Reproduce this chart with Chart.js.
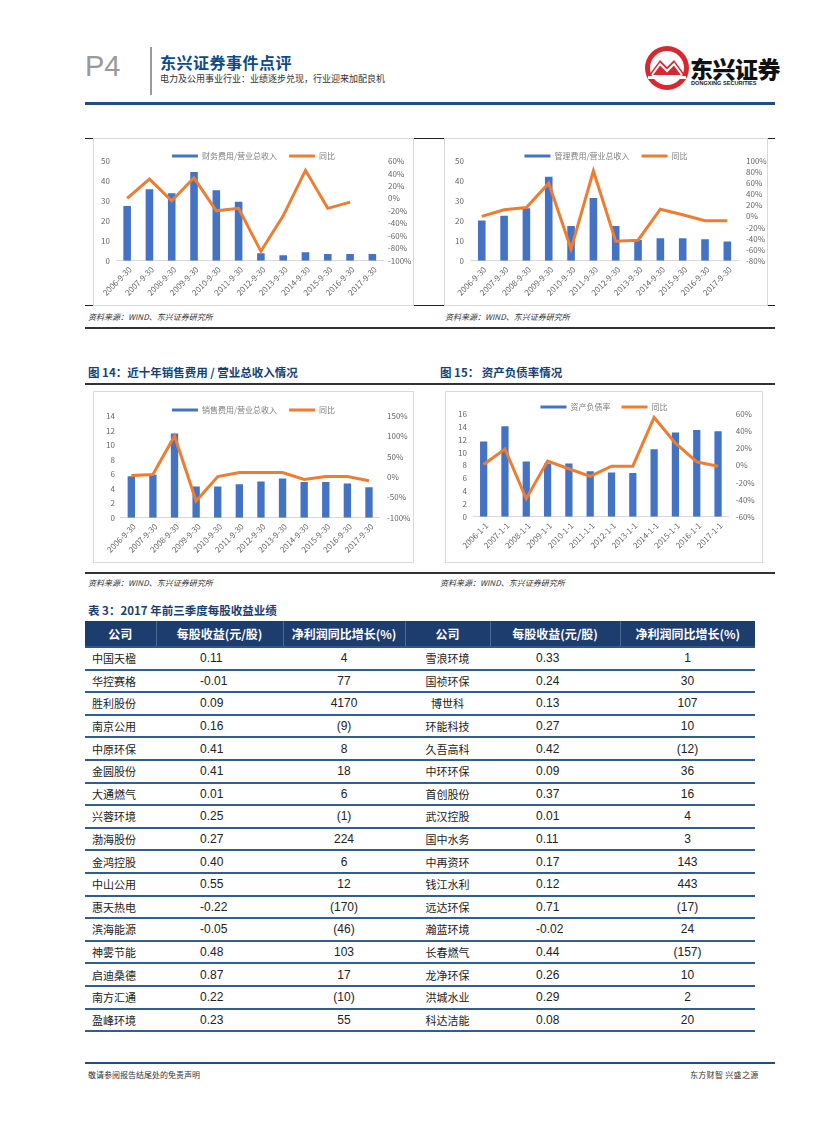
<!DOCTYPE html>
<html lang="zh-CN">
<head>
<meta charset="utf-8">
<title>东兴证券事件点评 P4</title>
<script src="https://cdn.jsdelivr.net/npm/chart.js@4.4.1/dist/chart.umd.min.js"></script>
<style>
  body { margin: 0; background: #fff; font-family: "Noto Sans CJK SC", "Noto Sans", sans-serif; }
  #page { position: relative; width: 827px; height: 1122px; overflow: hidden; background: #fff; }
  .abs { position: absolute; }
  .rule { position: absolute; left: 85px; width: 690px; }
  .box { position: absolute; border: 1px solid #d9d9d9; background: #fff; box-sizing: border-box; }
  .src { position: absolute; font-size: 8px; font-style: italic; color: #333; }
  .figtitle { position: absolute; font-size: 11.5px; font-weight: bold; color: #163f73; }
  canvas { position: absolute; }
  table { position: absolute; left: 85px; top: 621px; width: 670px; border-collapse: collapse; table-layout: fixed; }
  th { background: #1d3d6e; color: #fff; font-size: 12px; font-weight: bold; height: 25px; padding: 0; text-align: center;
       border-left: 1px solid #4a6a96; border-bottom: 2px solid #2a5a8c; }
  th:first-child { border-left: none; }
  td { height: 20.6px; padding: 0; font-size: 11px; color: #222; border-bottom: 2px solid #2e5f90; }
  td.name { text-align: left; padding-left: 7px; }
  td.namer { text-align: center; }
  td.num { font-family: "Liberation Sans Narrow", "Liberation Sans", sans-serif; font-size: 12px; }
  td.eps { text-align: left; padding-left: 44px; }
  td.epsr { text-align: left; padding-left: 46px; }
  td.gr { text-align: center; }
</style>
</head>
<body>
<div id="page">
  <!-- header -->
  <div class="abs" style="left:85px;top:50px;font-family:'Liberation Sans Narrow','Liberation Sans',sans-serif;font-size:29px;color:#999;">P4</div>
  <div class="abs" style="left:150px;top:47px;width:1.5px;height:48px;background:#999;"></div>
  <div class="abs" style="left:160px;top:50px;font-size:16px;font-weight:bold;color:#0d4a8a;letter-spacing:0.5px;">东兴证券事件点评</div>
  <div class="abs" style="left:160px;top:72px;font-size:9px;color:#333;">电力及公用事业行业：业绩逐步兑现，行业迎来加配良机</div>
  <svg class="abs" style="left:644px;top:45px;" width="46" height="46" viewBox="0 0 46 46">
    <circle cx="23" cy="23" r="22" fill="#d7282f"/>
    <circle cx="23" cy="23" r="17" fill="#fff"/>
    <path d="M5 30 L16 15 L23 22 L30 15 L41 30 Z" fill="#d7282f"/>
    <path d="M8 30 L16 19 L23 26 L30 19 L38 30" stroke="#fff" stroke-width="2" fill="none"/>
    <rect x="4" y="31" width="38" height="3" fill="#fff"/>
  </svg>
  <div class="abs" style="left:690px;top:51px;font-size:23px;font-weight:900;color:#111;letter-spacing:-0.5px;">东兴证券</div>
  <div class="abs" style="left:691px;top:80px;font-family:'Liberation Sans',sans-serif;font-size:5.6px;font-weight:bold;color:#222;">DONGXING SECURITIES</div>
  <div class="rule" style="top:102px;height:3px;background:#1c4f86;"></div>

  <!-- chart row 1 -->
  <div class="rule" style="top:138px;height:1px;background:#222;"></div>
  <div class="rule" style="top:305px;height:1px;background:#222;"></div>
  <div class="box" style="left:93px;top:138px;width:321px;height:168px;"></div>
  <div class="box" style="left:444px;top:138px;width:324px;height:168px;"></div>
  <canvas id="c1" width="319" height="166" style="left:94px;top:139px;"></canvas>
  <canvas id="c2" width="322" height="166" style="left:445px;top:139px;"></canvas>
  <div class="src" style="left:88px;top:311px;">资料来源：WIND、东兴证券研究所</div>
  <div class="src" style="left:445px;top:311px;">资料来源：WIND、东兴证券研究所</div>
  <div class="rule" style="top:327px;height:2px;background:#333;"></div>

  <!-- chart row 2 -->
  <div class="figtitle" style="left:88px;top:364px;">图 14：近十年销售费用 / 营业总收入情况</div>
  <div class="figtitle" style="left:440px;top:364px;">图 15：&nbsp;资产负债率情况</div>
  <div class="rule" style="top:383px;height:1.5px;background:#333;"></div>
  <div class="box" style="left:93px;top:391px;width:321px;height:172px;"></div>
  <div class="box" style="left:445px;top:391px;width:318px;height:172px;"></div>
  <canvas id="c3" width="319" height="170" style="left:94px;top:392px;"></canvas>
  <canvas id="c4" width="316" height="170" style="left:446px;top:392px;"></canvas>
  <div class="rule" style="top:572px;height:2px;background:#333;"></div>
  <div class="src" style="left:88px;top:577px;">资料来源：WIND、东兴证券研究所</div>
  <div class="src" style="left:440px;top:577px;">资料来源：WIND、东兴证券研究所</div>

  <!-- table -->
  <div class="figtitle" style="left:88px;top:602px;">表 3：2017 年前三季度每股收益业绩</div>
  <table id="tbl">
    <colgroup><col style="width:71px"><col style="width:127px"><col style="width:122px"><col style="width:85px"><col style="width:130px"><col style="width:135px"></colgroup>
    <thead><tr><th>公司</th><th>每股收益(元/股)</th><th>净利润同比增长(%)</th><th>公司</th><th>每股收益(元/股)</th><th>净利润同比增长(%)</th></tr></thead>
    <tbody></tbody>
  </table>

  <!-- footer -->
  <div class="rule" style="top:1062px;height:2px;background:#1c4f86;"></div>
  <div class="abs" style="left:88px;top:1069px;font-size:8px;color:#333;">敬请参阅报告结尾处的免责声明</div>
  <div class="abs" style="left:690px;top:1069px;font-size:8px;color:#333;letter-spacing:0.3px;">东方财智 兴盛之源</div>
</div>

<script>
const quarterCats = ['2006-9-30', '2007-9-30', '2008-9-30', '2009-9-30', '2010-9-30', '2011-9-30',
                     '2012-9-30', '2013-9-30', '2014-9-30', '2015-9-30', '2016-9-30', '2017-9-30'];
const yearCats = ['2006-1-1', '2007-1-1', '2008-1-1', '2009-1-1', '2010-1-1', '2011-1-1',
                  '2012-1-1', '2013-1-1', '2014-1-1', '2015-1-1', '2016-1-1', '2017-1-1'];

// 财务费用/营业总收入
const finRatio = [27.4, 35.8, 33.8, 44.5, 35.3, 29.6, 3.7, 2.7, 4.3, 3.3, 3.3, 3.3];
const finYoy = [0, 31, -4, 33, -20, -16, -85, -28, 45, -16, -6, null];
// 管理费用/营业总收入
const admRatio = [20.1, 22.6, 26.3, 42.1, 17.4, 31.5, 17.4, 10.4, 11.3, 11.3, 10.8, 9.6];
const admYoy = [0, 12, 16, 60, -59, 82, -45, -43, 13, 3, -8, -8];
// 销售费用/营业总收入
const saleRatio = [5.7, 5.9, 11.6, 4.3, 4.3, 4.6, 5.0, 5.4, 4.9, 4.9, 4.7, 4.2];
const saleYoy = [4, 6, 101, -59, 1, 11, 11, 11, -6, 1, 1, -9];
// 资产负债率
const debtRatio = [11.7, 14.1, 8.6, 8.3, 8.3, 7.1, 6.9, 6.8, 10.5, 13.1, 13.5, 13.3];
const debtYoy = [1, 19, -39, 5, -4, -13, -1, -1, 56, 26, 4, -1];

// table 3
const compL = ['中国天楹', '华控赛格', '胜利股份', '南京公用', '中原环保', '金圆股份', '大通燃气', '兴蓉环境', '渤海股份',
               '金鸿控股', '中山公用', '惠天热电', '滨海能源', '神雾节能', '启迪桑德', '南方汇通', '盈峰环境'];
const epsL = ['0.11', '-0.01', '0.09', '0.16', '0.41', '0.41', '0.01', '0.25', '0.27',
              '0.40', '0.55', '-0.22', '-0.05', '0.48', '0.87', '0.22', '0.23'];
const growL = ['4', '77', '4170', '(9)', '8', '18', '6', '(1)', '224', '6', '12', '(170)', '(46)', '103', '17', '(10)', '55'];
const compR = ['雪浪环境', '国祯环保', '博世科', '环能科技', '久吾高科', '中环环保', '首创股份', '武汉控股', '国中水务',
               '中再资环', '钱江水利', '远达环保', '瀚蓝环境', '长春燃气', '龙净环保', '洪城水业', '科达洁能'];
const epsR = ['0.33', '0.24', '0.13', '0.27', '0.42', '0.09', '0.37', '0.01', '0.11',
              '0.17', '0.12', '0.71', '-0.02', '0.44', '0.26', '0.29', '0.08'];
const growR = ['1', '30', '107', '10', '(12)', '36', '16', '4', '3', '143', '443', '(17)', '24', '(157)', '10', '2', '20'];

const BLUE = '#4472C4';
const ORANGE = '#ED7D31';
const FONT = '"Noto Sans CJK SC", "Noto Sans", sans-serif';
const TICK = '#666';

const tbody = document.querySelector('#tbl tbody');
compL.forEach((c, i) => {
  const tr = document.createElement('tr');
  tr.innerHTML = '<td class="name">' + c + '</td>' +
    '<td class="num eps">' + epsL[i] + '</td>' +
    '<td class="num gr">' + growL[i] + '</td>' +
    '<td class="namer">' + compR[i] + '</td>' +
    '<td class="num epsr">' + epsR[i] + '</td>' +
    '<td class="num gr">' + growR[i] + '</td>';
  tbody.appendChild(tr);
});

// legend sits closer to the plot than Chart.js allows by default
const tightLegend = {
  id: 'tightLegend',
  beforeLayout(chart, args, opts) {
    const lg = chart.legend;
    if (!lg || lg._tight) return;
    const fit = lg.fit;
    lg.fit = function () { fit.call(this); this.height -= opts.shrink; };
    lg._tight = true;
  }
};

// flat swatches for both items, no stroke around them
function flatLabels(chart) {
  return Chart.defaults.plugins.legend.labels.generateLabels(chart).map(it => {
    it.lineWidth = 0;
    return it;
  });
}

function comboChart(id, cats, barName, bars, yoy, left, right, lay) {
  const el = document.getElementById(id);
  if (!el) return null;
  return new Chart(el.getContext('2d'), {
    data: {
      labels: cats,
      datasets: [
        { type: 'bar', label: barName, data: bars, backgroundColor: BLUE, yAxisID: 'y',
          order: 2, categoryPercentage: 1, barPercentage: 0.34 },
        { type: 'line', label: '同比', data: yoy, borderColor: ORANGE, backgroundColor: ORANGE,
          borderWidth: 3, pointRadius: 0, tension: 0, yAxisID: 'y1', order: 1 }
      ]
    },
    options: {
      responsive: false,
      animation: false,
      devicePixelRatio: 1,
      layout: { padding: { top: lay.top, left: 0, right: 0, bottom: 0 } },
      plugins: {
        legend: {
          display: true,
          position: 'top',
          labels: {
            boxWidth: 26, boxHeight: 3, padding: lay.lp, color: '#7f7f7f',
            font: { size: 8, family: FONT },
            generateLabels: flatLabels,
            sort: (a, b) => a.datasetIndex - b.datasetIndex
          }
        },
        tooltip: { enabled: false },
        tightLegend: { shrink: lay.shrink }
      },
      scales: {
        x: {
          grid: { display: false, drawTicks: false },
          border: { color: '#d9d9d9' },
          ticks: { autoSkip: false, minRotation: 45, maxRotation: 45, padding: 4, labelOffset: 3,
                   color: TICK, font: { size: 8, family: FONT } },
          afterFit: s => { s.height = lay.bottom; }
        },
        y: {
          position: 'left', min: left[0], max: left[1],
          grid: { display: false, drawTicks: false },
          border: { display: false },
          ticks: { stepSize: left[2], autoSkip: false, padding: lay.lpad, color: TICK,
                   font: { size: 8, family: FONT } },
          afterFit: s => { s.width = lay.left; }
        },
        y1: {
          position: 'right', min: right[0], max: right[1],
          grid: { display: false, drawTicks: false },
          border: { display: false },
          ticks: { stepSize: right[2], autoSkip: false, padding: lay.rpad, color: TICK,
                   font: { size: 8, family: FONT }, callback: v => v + '%' },
          afterFit: s => { s.width = lay.right; }
        }
      }
    },
    plugins: [tightLegend]
  });
}

comboChart('c1', quarterCats, '财务费用/营业总收入', finRatio, finYoy, [0, 50, 10], [-100, 60, 20],
  { top: 1, lp: 12, shrink: 9, left: 22, right: 29.5, bottom: 44.3, lpad: 6, rpad: 4.5 });
comboChart('c2', quarterCats, '管理费用/营业总收入', admRatio, admYoy, [0, 50, 10], [-80, 100, 20],
  { top: 1, lp: 12, shrink: 9, left: 25.6, right: 28.5, bottom: 44.3, lpad: 6.6, rpad: 7.5 });
comboChart('c3', quarterCats, '销售费用/营业总收入', saleRatio, saleYoy, [0, 14, 2], [-100, 150, 50],
  { top: 2, lp: 12, shrink: 8, left: 26.5, right: 33.2, bottom: 44.3, lpad: 5.5, rpad: 7.2 });
comboChart('c4', yearCats, '资产负债率', debtRatio, debtYoy, [0, 16, 2], [-60, 60, 20],
  { top: 0, lp: 11, shrink: 7, left: 27, right: 33.3, bottom: 45.3, lpad: 6, rpad: 7 });
</script>
</body>
</html>
